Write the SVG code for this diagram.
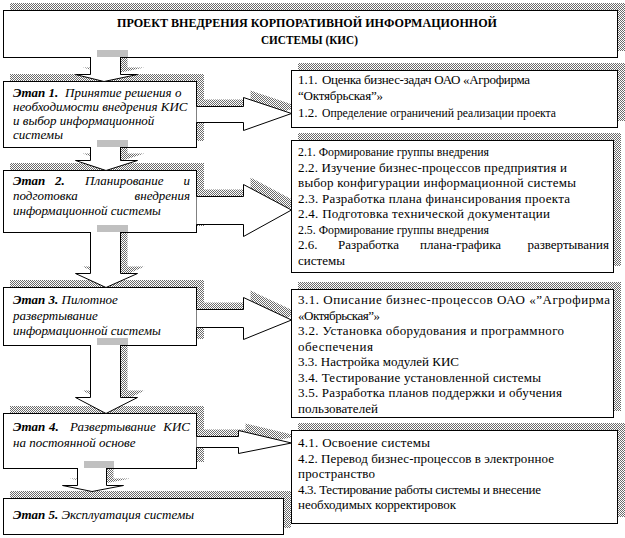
<svg xmlns="http://www.w3.org/2000/svg" width="625" height="538" viewBox="0 0 625 538">
<defs>
<pattern id="h" width="2" height="2" patternUnits="userSpaceOnUse"><rect width="2" height="2" fill="#fff"/><rect width="1" height="1" fill="#6b6b6b"/><rect x="1" y="1" width="1" height="1" fill="#6b6b6b"/></pattern>
<style>
.box{fill:#fff;stroke:#000;stroke-width:1}
.sh{fill:url(#h);stroke:none}
.cap{fill:#c0c0c0;stroke:none}
.ar{fill:#fff;stroke:#000;stroke-width:1;stroke-linejoin:miter}
.tx{font-family:'Liberation Serif','DejaVu Serif','Times New Roman',serif;font-size:13px;fill:#000}
.i{font-style:italic}
.b{font-weight:bold}
</style>
</defs>
<rect width="625" height="538" fill="#fff"/>
<g id="shadows">
<rect class="sh" x="10" y="3" width="615" height="48"/>
<rect class="sh" x="10" y="74" width="194" height="67"/>
<rect class="sh" x="10" y="163" width="194" height="63"/>
<rect class="sh" x="10" y="280" width="194" height="59"/>
<rect class="sh" x="10" y="406" width="194" height="56"/>
<rect class="sh" x="10" y="491" width="281" height="37"/>
<rect class="sh" x="298" y="63" width="327" height="58"/>
<rect class="sh" x="298" y="133" width="323" height="133"/>
<rect class="sh" x="298" y="282" width="323" height="129"/>
<rect class="sh" x="298" y="423" width="327" height="94"/>
</g>
<g id="arrow-shadows" transform="translate(7,-7)">
<path class="sh" d="M90.5,57 V74.5 H75.5 L104,81.5 L137.5,74.5 H120.5 V57 Z"/>
<path class="sh" d="M90.5,147 V160.5 H75.5 L106,170.5 L137.5,160.5 H120.5 V147 Z"/>
<path class="sh" d="M90.5,232 V273.5 H75.5 L106,287.5 L137.5,273.5 H120.5 V232 Z"/>
<path class="sh" d="M90.5,345 V397.5 H75.5 L106,413.5 L137.5,397.5 H120.5 V345 Z"/>
<path class="sh" d="M77.5,468 V485.5 H62.5 L92,491.5 L123.5,485.5 H106.5 V468 Z"/>
<path class="sh" d="M196.5,106.5 H243.5 V97.5 L291.5,113.5 L243.5,130.5 V122.5 H196.5 Z"/>
<path class="sh" d="M196.5,196.5 H243.5 V184.5 L291.5,210 L243.5,236.5 V224.5 H196.5 Z"/>
<path class="sh" d="M196.5,309.5 H243.5 V297.5 L291.5,320 L243.5,339.5 V327.5 H196.5 Z"/>
<path class="sh" d="M196.5,436.5 H238.5 V430.5 L291.5,443 L238.5,453.5 V447.5 H196.5 Z"/>
</g>
<g id="title" class="tx">
<rect class="box" x="3.5" y="10.5" width="614" height="47"/>
<text class="b" x="117" y="27" textLength="380" lengthAdjust="spacingAndGlyphs">ПРОЕКТ ВНЕДРЕНИЯ КОРПОРАТИВНОЙ ИНФОРМАЦИОННОЙ</text>
<text class="b" x="261" y="44" textLength="97" lengthAdjust="spacingAndGlyphs">СИСТЕМЫ (КИС)</text>
</g>
<g id="stage1" class="tx">
<rect class="box" x="3.5" y="81.5" width="193" height="66"/>
<text class="i" x="13" y="97"><tspan class="b">Этап 1.</tspan><tspan x="65">Принятие решения о</tspan></text>
<text class="i" x="13" y="111">необходимости внедрения КИС</text>
<text class="i" x="13" y="125">и выбор информационной</text>
<text class="i" x="13" y="139">системы</text>
</g>
<g id="stage2" class="tx">
<rect class="box" x="3.5" y="170.5" width="193" height="62"/>
<text class="i" y="185"><tspan class="b" x="13">Этап</tspan><tspan class="b" x="55">2.</tspan><tspan x="85">Планирование</tspan></text>
<text class="i" x="190" y="185" text-anchor="end">и</text>
<text class="i" x="13" y="200">подготовка</text>
<text class="i" x="190" y="200" text-anchor="end">внедрения</text>
<text class="i" x="13" y="215">информационной системы</text>
</g>
<g id="stage3" class="tx">
<rect class="box" x="3.5" y="287.5" width="193" height="58"/>
<text class="i" x="13" y="304"><tspan class="b">Этап 3.</tspan> Пилотное</text>
<text class="i" x="13" y="319.5">развертывание</text>
<text class="i" x="13" y="335">информационной системы</text>
</g>
<g id="stage4" class="tx">
<rect class="box" x="3.5" y="413.5" width="193" height="55"/>
<text class="i" y="431"><tspan class="b" x="13">Этап</tspan><tspan class="b" x="49">4.</tspan><tspan x="70">Развертывание</tspan></text>
<text class="i" x="190" y="431" text-anchor="end">КИС</text>
<text class="i" x="13" y="447">на постоянной основе</text>
</g>
<g id="stage5" class="tx">
<rect class="box" x="3.5" y="498.5" width="280" height="36"/>
<text class="i" x="13" y="519"><tspan class="b">Этап 5.</tspan> Эксплуатация системы</text>
</g>
<g id="tasks1" class="tx">
<rect class="box" x="291.5" y="70.5" width="326" height="57"/>
<text x="298" y="84">1.1.</text>
<text x="322" y="84" textLength="208">Оценка бизнес-задач ОАО «Агрофирма</text>
<text x="298" y="100" textLength="85">“Октябрьская”»</text>
<text x="298" y="117">1.2.</text>
<text x="322" y="117" textLength="234" lengthAdjust="spacingAndGlyphs">Определение ограничений реализации проекта</text>
</g>
<g id="tasks2" class="tx">
<rect class="box" x="291.5" y="140.5" width="322" height="132"/>
<text x="298" y="156" textLength="191" lengthAdjust="spacingAndGlyphs">2.1. Формирование группы внедрения</text>
<text x="298" y="171.5" textLength="269">2.2. Изучение бизнес-процессов предприятия и</text>
<text x="298" y="187" textLength="278">выбор конфигурации информационной системы</text>
<text x="298" y="202.5" textLength="272">2.3. Разработка плана финансирования проекта</text>
<text x="298" y="218" textLength="252">2.4. Подготовка технической документации</text>
<text x="298" y="233.5" textLength="191" lengthAdjust="spacingAndGlyphs">2.5. Формирование группы внедрения</text>
<text y="249"><tspan x="298">2.6.</tspan><tspan x="338">Разработка</tspan><tspan x="420">плана-графика</tspan></text>
<text x="609" y="249" text-anchor="end">развертывания</text>
<text x="298" y="264.5">системы</text>
</g>
<g id="tasks3" class="tx">
<rect class="box" x="291.5" y="289.5" width="322" height="128"/>
<text x="298" y="304" textLength="312">3.1. Описание бизнес-процессов ОАО «”Агрофирма</text>
<text x="298" y="319.5" textLength="82">«Октябрьская”»</text>
<text x="298" y="335" textLength="266">3.2. Установка оборудования и программного</text>
<text x="298" y="350.5" textLength="75">обеспечения</text>
<text x="298" y="366" textLength="161">3.3. Настройка модулей КИС</text>
<text x="298" y="381.5" textLength="243">3.4. Тестирование установленной системы</text>
<text x="298" y="397" textLength="264">3.5. Разработка планов поддержки и обучения</text>
<text x="298" y="412.5" textLength="80">пользователей</text>
</g>
<g id="tasks4" class="tx">
<rect class="box" x="291.5" y="430.5" width="326" height="93"/>
<text x="298" y="447" textLength="132">4.1. Освоение системы</text>
<text x="298" y="462.5" textLength="256">4.2. Перевод бизнес-процессов в электронное</text>
<text x="298" y="478" textLength="77">пространство</text>
<text x="298" y="493.5" textLength="243">4.3. Тестирование работы системы и внесение</text>
<text x="298" y="509" textLength="158">необходимых корректировок</text>
</g>
<g id="connectors">
<rect class="cap" x="97" y="50" width="31" height="7"/>
<rect class="cap" x="97" y="140" width="31" height="7"/>
<rect class="cap" x="97" y="225" width="31" height="7"/>
<rect class="cap" x="97" y="338" width="31" height="7"/>
<rect class="cap" x="84" y="461" width="30" height="7"/>
<path class="ar" d="M90.5,57 V74.5 H75.5 L104,81.5 L137.5,74.5 H120.5 V57"/>
<path class="ar" d="M90.5,147 V160.5 H75.5 L106,170.5 L137.5,160.5 H120.5 V147"/>
<path class="ar" d="M90.5,232 V273.5 H75.5 L106,287.5 L137.5,273.5 H120.5 V232"/>
<path class="ar" d="M90.5,345 V397.5 H75.5 L106,413.5 L137.5,397.5 H120.5 V345"/>
<path class="ar" d="M77.5,468 V485.5 H62.5 L92,491.5 L123.5,485.5 H106.5 V468"/>
<path class="ar" d="M196.5,106.5 H243.5 V97.5 L291.5,113.5 L243.5,130.5 V122.5 H196.5"/>
<path class="ar" d="M196.5,196.5 H243.5 V184.5 L291.5,210 L243.5,236.5 V224.5 H196.5"/>
<path class="ar" d="M196.5,309.5 H243.5 V297.5 L291.5,320 L243.5,339.5 V327.5 H196.5"/>
<path class="ar" d="M196.5,436.5 H238.5 V430.5 L291.5,443 L238.5,453.5 V447.5 H196.5"/>
</g>
</svg>
